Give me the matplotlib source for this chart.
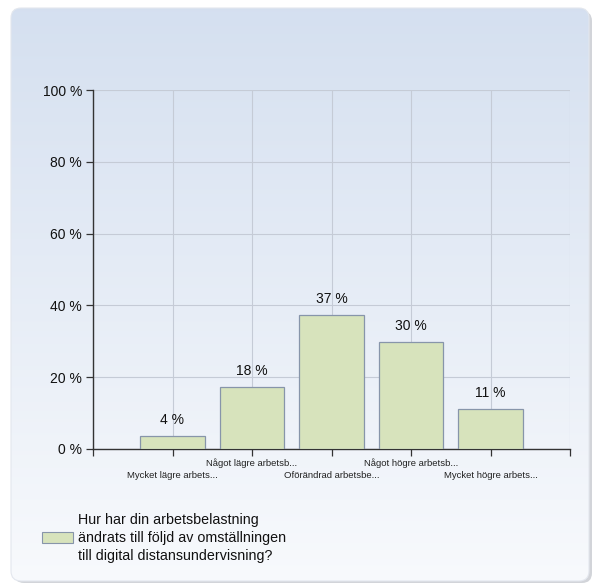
import numpy as np
import matplotlib
matplotlib.use("Agg")
from matplotlib import pyplot as plt
from matplotlib.patches import FancyBboxPatch, Rectangle

plt.rcParams['font.family'] = ['Liberation Sans', 'DejaVu Sans']

# Data
categories = ["Mycket lägre arbets...", "Något lägre arbetsb...", "Oförändrad arbetsbe...",
              "Något högre arbetsb...", "Mycket högre arbets..."]
values = [3.6, 17.4, 37.3, 29.8, 11.1]
value_labels = ["4 %", "18 %", "37 %", "30 %", "11 %"]
y_ticks = [0, 20, 40, 60, 80, 100]
legend_text = "Hur har din arbetsbelastning\nändrats till följd av omställningen\ntill digital distansundervisning?"

W, H = 594, 586
fig = plt.figure(figsize=(W / 100, H / 100), dpi=100)
fig.patch.set_facecolor('white')

# Background panel with gradient and rounded corners
bg = fig.add_axes([0, 0, 1, 1])
bg.set_xlim(0, W)
bg.set_ylim(H, 0)
bg.axis('off')
shadow = FancyBboxPatch((14, 11), 578, 572, boxstyle="round,pad=0,rounding_size=10",
                        facecolor='#bfc3ca', edgecolor='none', alpha=0.7)
bg.add_patch(shadow)
panel = FancyBboxPatch((11, 8), 578, 573, boxstyle="round,pad=0,rounding_size=10",
                       facecolor='none', edgecolor='#e3e7ee', linewidth=0.8)
bg.add_patch(panel)
grad = np.linspace(0, 1, 256).reshape(-1, 1)
top = np.array([0.835, 0.878, 0.941])
bot = np.array([0.972, 0.979, 0.990])
img = top + (bot - top) * grad[..., None]
im = bg.imshow(img, extent=[11, 589, 581, 8], aspect='auto', zorder=1)
im.set_clip_path(panel)
panel.set_zorder(2)

# Chart axes
x0, x1, y0, y1 = 93, 570, 90, 449
ax = fig.add_axes([x0 / W, 1 - y1 / H, (x1 - x0) / W, (y1 - y0) / H])
ax.patch.set_alpha(0)
pos = np.arange(1, len(categories) + 1)
ax.bar(pos, values, width=0.81, color='#d7e3bc', edgecolor='#8795aa', linewidth=0.9, zorder=3)
for p, v, lab in zip(pos, values, value_labels):
    ax.text(p, v + 2.5, lab, ha='center', va='bottom', fontsize=10, color='#111111')

ax.set_xlim(0, 6)
ax.set_ylim(0, 100)
ax.set_yticks(y_ticks)
ax.set_yticklabels([f"{t} %" for t in y_ticks], fontsize=10, color='#111111')
ax.set_xticks(np.arange(0, 7))
ax.set_xticklabels([])
ax.grid(True, color='#c5cbd6', linewidth=0.8, zorder=0)
for s in ['top', 'right']:
    ax.spines[s].set_visible(False)
for s in ['left', 'bottom']:
    ax.spines[s].set_color('#333333')
    ax.spines[s].set_linewidth(1.0)
ax.tick_params(axis='both', length=5, width=0.9, color='#333333', pad=3)

for i, (p, c) in enumerate(zip(pos, categories)):
    yoff = -27 if i % 2 == 0 else -14
    ax.annotate(c, xy=(p, 0), xytext=(0, yoff), textcoords='offset pixels',
                ha='center', va='center', fontsize=6.8, color='#222222',
                annotation_clip=False)

# Legend
bg.add_patch(Rectangle((42, 532), 31, 11, facecolor='#d7e3bc', edgecolor='#8795aa',
                       linewidth=0.8, zorder=3))
bg.text(78, 538, legend_text, ha='left', va='center', fontsize=10.3,
        color='#111111', linespacing=1.33, zorder=3)

fig.savefig("out.png", dpi=100)
